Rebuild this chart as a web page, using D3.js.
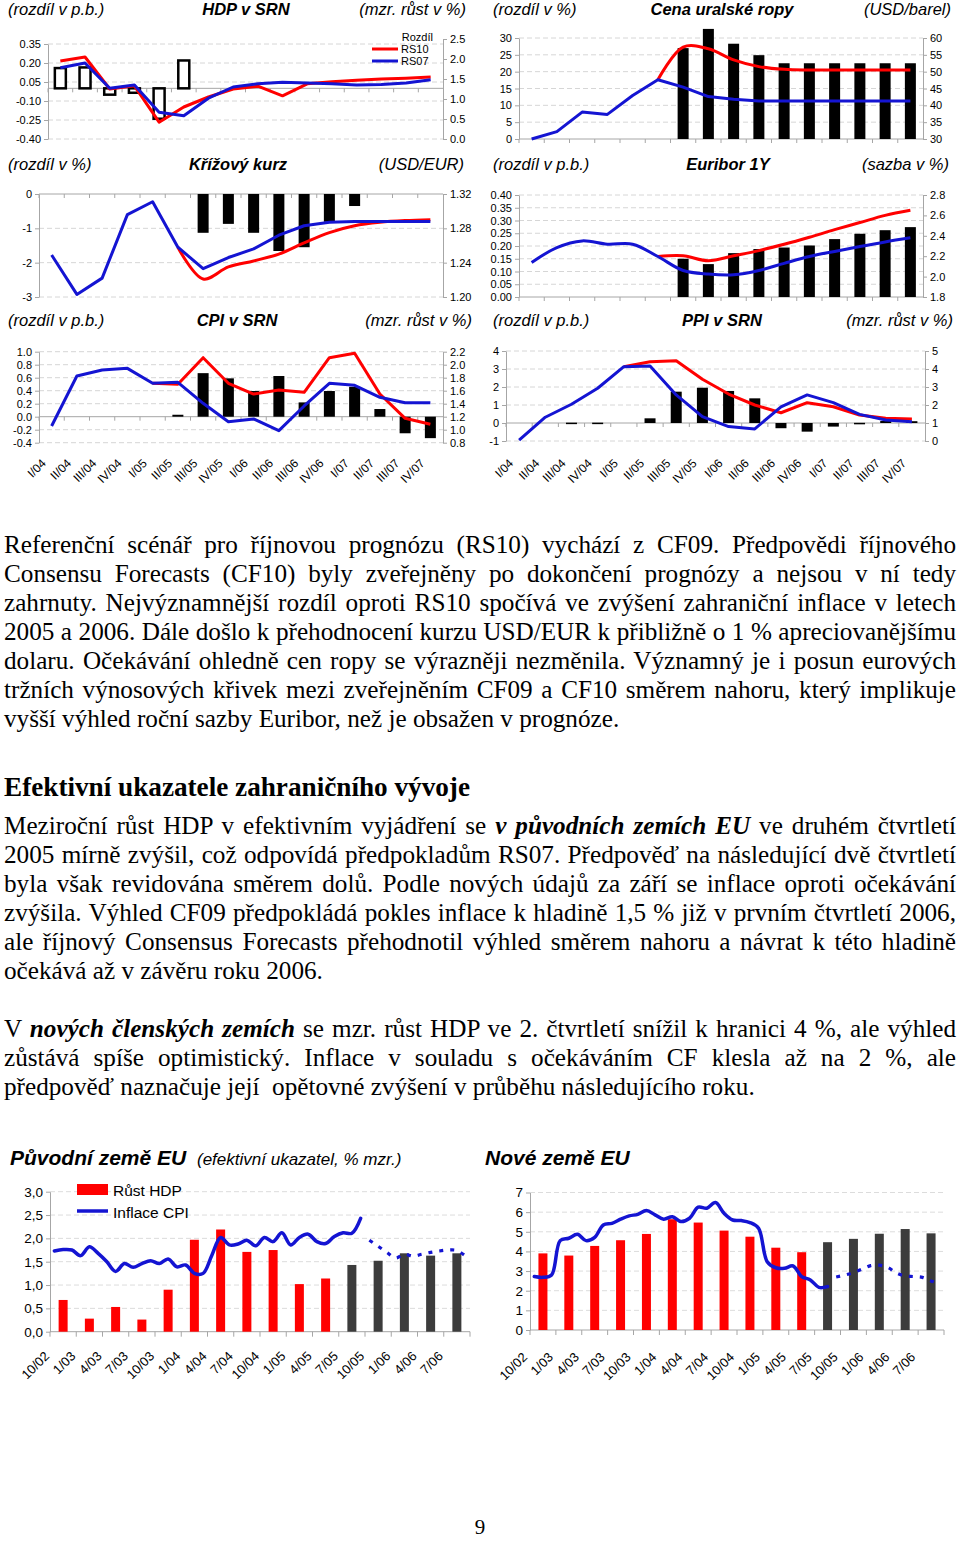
<!DOCTYPE html>
<html>
<head>
<meta charset="utf-8">
<script src="https://cdn.jsdelivr.net/npm/d3@7"></script>
<style>
  body { margin: 0; background: #fff; }
  svg { display: block; }
</style>
</head>
<body>
<svg id="page" width="960" height="1541"></svg>
<script>
/* eslint-disable no-undef */

// ---- data: horní grafy (čtvrtletí) ----
const quarters = ['I/04', 'II/04', 'III/04', 'IV/04', 'I/05', 'II/05', 'III/05', 'IV/05',
  'I/06', 'II/06', 'III/06', 'IV/06', 'I/07', 'II/07', 'III/07', 'IV/07']

// HDP v SRN
const hdpRozdil = [0.16, 0.165, -0.05, -0.035, -0.24, 0.22, null, null, null, null, null, null, null, null, null, null]
const hdpRS10 = [1.95, 2.05, 1.25, 1.33, 0.42, 0.80, 1.05, 1.25, 1.32, 1.08, 1.38, 1.43, 1.47, 1.50, 1.52, 1.55]
const hdpRS07 = [1.78, 1.90, 1.27, 1.35, 0.67, 0.58, 1.02, 1.30, 1.38, 1.42, 1.40, 1.38, 1.35, 1.36, 1.40, 1.48]

// Cena uralské ropy
const ropaRozdil = [null, null, null, null, null, null, 27.0, 32.7, 28.3, 24.9, 22.5, 22.5, 22.5, 22.5, 22.5, 22.5]
const ropaRS10 = [null, null, null, null, null, 47.6, 57.3, 56.8, 53.5, 51.5, 50.7, 50.5, 50.5, 50.5, 50.5, 50.5]
const ropaRS07 = [30.0, 32.2, 38.0, 37.3, 42.9, 47.6, 45.4, 42.6, 41.8, 41.3, 41.3, 41.3, 41.3, 41.3, 41.3, 41.3]

// Křížový kurz
const kurzRozdil = [null, null, null, null, null, null, -1.13, -0.87, -1.13, -1.66, -1.55, -0.81, -0.35, null, null, null]
const kurzRS10 = [null, null, null, null, null, 1.258, 1.221, 1.235, 1.242, 1.250, 1.263, 1.275, 1.283, 1.287, 1.289, 1.290]
const kurzRS07 = [1.249, 1.203, 1.222, 1.296, 1.311, 1.258, 1.233, 1.246, 1.256, 1.272, 1.283, 1.287, 1.288, 1.288, 1.288, 1.288]

// Euribor 1Y
const euriborRozdil = [null, null, null, null, null, null, 0.150, 0.129, 0.172, 0.188, 0.194, 0.202, 0.227, 0.248, 0.262, 0.274]
const euriborRS10 = [null, null, null, null, null, 2.197, 2.204, 2.155, 2.204, 2.255, 2.317, 2.386, 2.46, 2.53, 2.60, 2.65]
const euriborRS07 = [2.138, 2.285, 2.35, 2.318, 2.318, 2.197, 2.06, 2.025, 2.018, 2.06, 2.13, 2.197, 2.247, 2.295, 2.34, 2.38]

// CPI v SRN
const cpiRozdil = [null, null, null, null, null, 0.03, 0.67, 0.59, 0.395, 0.626, 0.22, 0.395, 0.46, 0.118, -0.255, -0.33]
const cpiRS10 = [null, null, null, null, 1.714, 1.70, 2.108, 1.714, 1.549, 1.611, 1.575, 2.108, 2.175, 1.549, 1.175, 1.083]
const cpiRS07 = [1.057, 1.826, 1.918, 1.944, 1.714, 1.729, 1.406, 1.123, 1.165, 0.985, 1.365, 1.714, 1.683, 1.498, 1.416, 1.416]

// PPI v SRN
const ppiRozdil = [null, null, 0.02, 0.02, null, 0.26, 1.74, 1.96, 1.78, 1.37, -0.29, -0.48, -0.20, 0.01, 0.11, 0.10]
const ppiRS10 = [null, null, null, null, 4.13, 4.40, 4.46, 3.43, 2.61, 2.00, 1.57, 2.13, 1.90, 1.44, 1.26, 1.22]
const ppiRS07 = [0.05, 1.32, 2.04, 2.93, 4.13, 4.17, 2.56, 1.35, 0.80, 0.67, 1.90, 2.56, 2.13, 1.48, 1.17, 1.07]

// ---- data: dolní grafy (efektivní ukazatele) ----
const qLabels = ['10/02', '1/03', '4/03', '7/03', '10/03', '1/04', '4/04', '7/04', '10/04', '1/05',
  '4/05', '7/05', '10/05', '1/06', '4/06', '7/06']

const puvHdp = [0.68, 0.28, 0.53, 0.26, 0.90, 1.97, 2.19, 1.71, 1.75, 1.02, 1.14]
const puvHdpPredpoved = [1.43, 1.52, 1.68, 1.63, 1.68]
const puvCpi = [1.73, 1.76, 1.75, 1.63, 1.82, 1.68, 1.50, 1.29, 1.46, 1.38, 1.46, 1.52, 1.46, 1.56, 1.39, 1.43, 1.25, 1.25,
  1.64, 2.02, 1.86, 1.88, 1.96, 1.84, 2.02, 1.93, 2.12, 1.86, 2.02, 2.09, 1.93, 1.89, 2.04, 2.12, 2.11, 2.43]
const puvCpiPredpoved = [1.96, 1.83, 1.70, 1.58, 1.66, 1.62, 1.66, 1.70, 1.73, 1.75, 1.74, 1.62]

const noveHdp = [3.90, 3.79, 4.28, 4.57, 4.89, 5.64, 5.47, 5.06, 4.75, 4.19, 3.96]
const noveHdpPredpoved = [4.47, 4.64, 4.90, 5.14, 4.92]
const noveCpi = [2.72, 2.68, 2.80, 4.55, 4.67, 4.87, 4.55, 4.72, 5.35, 5.43, 5.64, 5.81, 5.89, 6.08, 5.86, 5.64, 5.77, 5.52,
  5.69, 6.25, 6.20, 6.49, 5.94, 5.60, 5.57, 5.47, 5.18, 3.48, 3.17, 3.14, 3.26, 2.72, 2.55, 2.17, 2.21]
const noveCpiPredpoved = [2.70, 2.80, 2.92, 3.10, 3.28, 3.30, 3.18, 2.90, 2.75, 2.72, 2.68, 2.50, 2.35]

// ---- text ----
const odstavec1 = [
  'Referenční scénář pro říjnovou prognózu (RS10) vychází z CF09. Předpovědi říjnového',
  'Consensu Forecasts (CF10) byly zveřejněny po dokončení prognózy a nejsou v ní tedy',
  'zahrnuty. Nejvýznamnější rozdíl oproti RS10 spočívá ve zvýšení zahraniční inflace v letech',
  '2005 a 2006. Dále došlo k přehodnocení kurzu USD/EUR k přibližně o 1 % apreciovanějšímu',
  'dolaru. Očekávání ohledně cen ropy se výrazněji nezměnila. Významný je i posun eurových',
  'tržních výnosových křivek mezi zveřejněním CF09 a CF10 směrem nahoru, který implikuje',
  'vyšší výhled roční sazby Euribor, než je obsažen v prognóze.'
]
const nadpis = 'Efektivní ukazatele zahraničního vývoje'
const odstavec2 = [
  'Meziroční růst HDP v efektivním vyjádření se *v původních zemích EU* ve druhém čtvrtletí',
  '2005 mírně zvýšil, což odpovídá předpokladům RS07. Předpověď na následující dvě čtvrtletí',
  'byla však revidována směrem dolů. Podle nových údajů za září se inflace oproti očekávání',
  'zvýšila. Výhled CF09 předpokládá pokles inflace k hladině 1,5 % již v prvním čtvrtletí 2006,',
  'ale říjnový Consensus Forecasts přehodnotil výhled směrem nahoru a návrat k této hladině',
  'očekává až v závěru roku 2006.'
]
const odstavec3 = [
  'V *nových členských zemích* se mzr. růst HDP ve 2. čtvrtletí snížil k hranici 4 %, ale výhled',
  'zůstává spíše optimistický. Inflace v souladu s očekáváním CF klesla až na 2 %, ale',
  'předpověď naznačuje její  opětovné zvýšení v průběhu následujícího roku.'
]

const RED = '#ff0000'
const BLUE = '#1414d2'
const GREY = '#a6a6a6'
const SANS = 'Liberation Sans, Arial, sans-serif'
const SERIF = 'Liberation Serif, Times New Roman, serif'

const svg = d3.select('#page')
const dot = d3.formatLocale({ decimal: '.', thousands: ',', grouping: [3], currency: ['', ''], minus: '-' })
const fmtCz = d3.formatLocale({ decimal: ',', thousands: ' ', grouping: [3], currency: ['', ''], minus: '-' }).format('.1f')

function styleAxis (a, size) {
  a.attr('font-family', SANS).attr('font-size', size)
  a.selectAll('path, line').attr('stroke', GREY)
  a.selectAll('text').attr('fill', '#000')
}

function titles (t) {
  const g = svg.append('g').attr('font-family', SANS).attr('font-size', 16.5).attr('font-style', 'italic')
  g.append('text').attr('x', t.lx).attr('y', t.y).text(t.l)
  g.append('text').attr('x', t.cx).attr('y', t.y).attr('text-anchor', 'middle')
    .attr('font-weight', 'bold').text(t.c)
  g.append('text').attr('x', t.rx).attr('y', t.y).attr('text-anchor', 'end').text(t.r)
}

// dvojosý graf: sloupce = rozdíl (levá osa), čáry = RS10 / RS07 (pravá osa)
function panel (cfg) {
  const g = svg.append('g')
  const x = d3.scaleBand().domain(quarters).range([cfg.x0, cfg.x1])
  const yL = d3.scaleLinear().domain(cfg.left).range(cfg.ly)
  const yR = d3.scaleLinear().domain(cfg.right).range(cfg.ry)
  const cx = q => x(q) + x.bandwidth() / 2
  const bw = 11

  g.append('g').selectAll('line').data(cfg.lTicks.filter(d => d !== cfg.base)).join('line')
    .attr('x1', cfg.x0).attr('x2', cfg.x1)
    .attr('y1', d => yL(d)).attr('y2', d => yL(d))
    .attr('stroke', '#d6d6d6').attr('stroke-dasharray', '5,3')

  const axL = g.append('g').attr('transform', `translate(${cfg.x0},0)`)
    .call(d3.axisLeft(yL).tickValues(cfg.lTicks).tickFormat(cfg.lFmt).tickSize(4).tickSizeOuter(0))
  const axR = g.append('g').attr('transform', `translate(${cfg.x1},0)`)
    .call(d3.axisRight(yR).tickValues(cfg.rTicks).tickFormat(cfg.rFmt).tickSize(4).tickSizeOuter(0))
  styleAxis(axL, 11)
  styleAxis(axR, 11)

  // kategoriální osa
  const by = yL(cfg.base)
  g.append('line').attr('x1', cfg.x0).attr('x2', cfg.x1).attr('y1', by).attr('y2', by).attr('stroke', GREY)
  g.append('g').selectAll('line').data(quarters).join('line')
    .attr('x1', d => x(d)).attr('x2', d => x(d))
    .attr('y1', by).attr('y2', by + 4).attr('stroke', GREY)

  const bars = quarters.map((q, i) => ({ q, v: cfg.bars[i] })).filter(d => d.v != null)
  g.append('g').selectAll('rect').data(bars).join('rect')
    .attr('x', d => cx(d.q) - bw / 2)
    .attr('width', bw)
    .attr('y', d => Math.min(yL(d.v), by))
    .attr('height', d => Math.max(1.5, Math.abs(yL(d.v) - by)))
    .attr('fill', cfg.hollow ? '#fff' : '#000')
    .attr('stroke', cfg.hollow ? '#000' : 'none')
    .attr('stroke-width', 2.5)

  cfg.lines.forEach(s => {
    const line = d3.line()
      .defined(d => d != null)
      .x((d, i) => cx(quarters[i]))
      .y(d => yR(d))
      .curve(s.curve || cfg.curve || d3.curveLinear)
    g.append('path').datum(s.values)
      .attr('d', line)
      .attr('fill', 'none')
      .attr('stroke', s.color)
      .attr('stroke-width', 3)
      .attr('stroke-linejoin', 'round')
  })

  if (cfg.labelY) {
    g.append('g').selectAll('text').data(quarters).join('text')
      .attr('transform', d => `translate(${cx(d) - 5},${cfg.labelY}) rotate(-45)`)
      .attr('text-anchor', 'end')
      .attr('font-family', SANS).attr('font-size', 12)
      .text(d => d)
  }
  return g
}

// graf efektivních ukazatelů: čtvrtletní HDP (sloupce) + měsíční CPI (čára)
function euPanel (cfg) {
  const g = svg.append('g')
  const x = d3.scaleBand().domain(qLabels).range([cfg.x0, cfg.x1])
  const xm = d3.scaleLinear().domain([0, 48]).range([cfg.x0, cfg.x1])
  const y = d3.scaleLinear().domain(cfg.dom).range(cfg.yr)
  const cx = q => x(q) + x.bandwidth() / 2
  const bw = 9

  g.append('g').selectAll('line').data(cfg.ticks.slice(1)).join('line')
    .attr('x1', cfg.x0).attr('x2', cfg.x1)
    .attr('y1', d => y(d)).attr('y2', d => y(d))
    .attr('stroke', '#dcdcdc').attr('stroke-dasharray', '5,3')

  const ax = g.append('g').attr('transform', `translate(${cfg.x0},0)`)
    .call(d3.axisLeft(y).tickValues(cfg.ticks).tickFormat(cfg.fmt).tickSize(4).tickSizeOuter(0))
  styleAxis(ax, 13.5)

  const by = y(0)
  g.append('line').attr('x1', cfg.x0).attr('x2', cfg.x1).attr('y1', by).attr('y2', by).attr('stroke', GREY)
  g.append('g').selectAll('line').data(qLabels.concat(['end'])).join('line')
    .attr('x1', (d, i) => cfg.x0 + i * x.step()).attr('x2', (d, i) => cfg.x0 + i * x.step())
    .attr('y1', by).attr('y2', by + 5).attr('stroke', GREY)

  const bars = cfg.hdp.map((v, i) => ({ q: qLabels[i], v, c: RED }))
    .concat(cfg.hdpP.map((v, i) => ({ q: qLabels[i + cfg.hdp.length], v, c: '#3c3c3c' })))
  g.append('g').selectAll('rect').data(bars).join('rect')
    .attr('x', d => cx(d.q) - bw / 2).attr('width', bw)
    .attr('y', d => y(d.v)).attr('height', d => by - y(d.v))
    .attr('fill', d => d.c)

  const line = off => d3.line()
    .x((d, i) => xm(i + off + 0.5))
    .y(d => y(d))
    .curve(d3.curveCatmullRom.alpha(0.5))
  g.append('path').datum(cfg.cpi).attr('d', line(0))
    .attr('fill', 'none').attr('stroke', BLUE).attr('stroke-width', 3.5).attr('stroke-linecap', 'round')
  g.append('path').datum(cfg.cpiP).attr('d', line(cfg.cpiPStart))
    .attr('fill', 'none').attr('stroke', BLUE).attr('stroke-width', 3.2).attr('stroke-dasharray', '4,7')

  g.append('g').selectAll('text').data(qLabels).join('text')
    .attr('transform', (d, i) => `translate(${cfg.x0 + i * x.step() + cfg.lblDx},${cfg.labelY}) rotate(-45)`)
    .attr('text-anchor', 'end')
    .attr('font-family', SANS).attr('font-size', 13)
    .text(d => d)
  return g
}

const f2 = dot.format('.2f')
const f1 = dot.format('.1f')
const f0 = dot.format('d')
const smooth = d3.curveCatmullRom.alpha(0.5)

// HDP v SRN
titles({ y: 15, lx: 8, cx: 246, rx: 466, l: '(rozdíl v p.b.)', c: 'HDP v SRN', r: '(mzr. růst v %)' })
panel({
  x0: 48, x1: 443, left: [-0.40, 0.35], ly: [139, 44], right: [0, 2.5], ry: [139, 39],
  lTicks: [-0.40, -0.25, -0.10, 0.05, 0.20, 0.35], lFmt: f2,
  rTicks: [0, 0.5, 1.0, 1.5, 2.0, 2.5], rFmt: f1,
  base: 0, bars: hdpRozdil, hollow: true,
  lines: [{ values: hdpRS10, color: RED }, { values: hdpRS07, color: BLUE }]
})
const leg = svg.append('g').attr('font-family', SANS).attr('font-size', 11)
leg.append('text').attr('x', 433).attr('y', 41).attr('text-anchor', 'end').text('Rozdíl')
leg.append('line').attr('x1', 372).attr('x2', 398).attr('y1', 49).attr('y2', 49).attr('stroke', RED).attr('stroke-width', 3)
leg.append('text').attr('x', 401).attr('y', 53).text('RS10')
leg.append('line').attr('x1', 372).attr('x2', 398).attr('y1', 61).attr('y2', 61).attr('stroke', BLUE).attr('stroke-width', 3)
leg.append('text').attr('x', 401).attr('y', 65).text('RS07')

// Cena uralské ropy
titles({ y: 15, lx: 493, cx: 722, rx: 951, l: '(rozdíl v %)', c: 'Cena uralské ropy', r: '(USD/barel)' })
panel({
  x0: 519, x1: 923, left: [0, 30], ly: [139, 38], right: [30, 60], ry: [139, 38],
  lTicks: [0, 5, 10, 15, 20, 25, 30], lFmt: f0,
  rTicks: [30, 35, 40, 45, 50, 55, 60], rFmt: f0,
  base: 0, bars: ropaRozdil,
  lines: [{ values: ropaRS10, color: RED, curve: smooth }, { values: ropaRS07, color: BLUE }]
})

// Křížový kurz
titles({ y: 170, lx: 8, cx: 238, rx: 464, l: '(rozdíl v %)', c: 'Křížový kurz', r: '(USD/EUR)' })
panel({
  x0: 39, x1: 443, left: [-3, 0], ly: [297, 194], right: [1.20, 1.32], ry: [297, 194],
  lTicks: [-3, -2, -1, 0], lFmt: f0,
  rTicks: [1.20, 1.24, 1.28, 1.32], rFmt: f2,
  base: 0, bars: kurzRozdil,
  lines: [{ values: kurzRS10, color: RED, curve: smooth }, { values: kurzRS07, color: BLUE }]
})

// Euribor 1Y
titles({ y: 170, lx: 493, cx: 728, rx: 949, l: '(rozdíl v p.b.)', c: 'Euribor 1Y', r: '(sazba v %)' })
panel({
  x0: 519, x1: 923, left: [0, 0.40], ly: [297, 195], right: [1.8, 2.8], ry: [297, 195],
  lTicks: d3.range(0, 0.401, 0.05), lFmt: f2,
  rTicks: d3.range(1.8, 2.81, 0.2), rFmt: f1,
  base: 0, bars: euriborRozdil, curve: smooth,
  lines: [{ values: euriborRS10, color: RED }, { values: euriborRS07, color: BLUE }]
})

// CPI v SRN
titles({ y: 326, lx: 8, cx: 237, rx: 472, l: '(rozdíl v p.b.)', c: 'CPI v SRN', r: '(mzr. růst v %)' })
panel({
  x0: 39, x1: 443, left: [-0.4, 1.0], ly: [442.7, 351.7], right: [0.8, 2.2], ry: [442.7, 351.7],
  lTicks: d3.range(-0.4, 1.01, 0.2), lFmt: f1,
  rTicks: d3.range(0.8, 2.21, 0.2), rFmt: f1,
  base: 0, bars: cpiRozdil, labelY: 464,
  lines: [{ values: cpiRS10, color: RED }, { values: cpiRS07, color: BLUE }]
})

// PPI v SRN
titles({ y: 326, lx: 493, cx: 722, rx: 953, l: '(rozdíl v p.b.)', c: 'PPI v SRN', r: '(mzr. růst v %)' })
panel({
  x0: 506, x1: 925, left: [-1, 4], ly: [441, 351], right: [0, 5], ry: [441, 351],
  lTicks: [-1, 0, 1, 2, 3, 4], lFmt: f0,
  rTicks: [0, 1, 2, 3, 4, 5], rFmt: f0,
  base: 0, bars: ppiRozdil, labelY: 464,
  lines: [{ values: ppiRS10, color: RED }, { values: ppiRS07, color: BLUE }]
})

// ---- odstavce textu (zarovnání do bloku) ----
function textLine (str, y, justify, opts) {
  const t = svg.append('text')
    .attr('x', 4).attr('y', y)
    .attr('font-family', SERIF).attr('font-size', opts.size)
    .attr('font-weight', opts.bold ? 'bold' : null)
    .style('white-space', 'pre')
  str.split('*').forEach((s, i) => {
    t.append('tspan').text(s)
      .attr('font-weight', i % 2 ? 'bold' : null)
      .attr('font-style', i % 2 ? 'italic' : null)
  })
  if (justify) {
    const w = t.node().getComputedTextLength()
    const n = (str.match(/ /g) || []).length
    t.style('word-spacing', ((952 - w) / n) + 'px')
  }
}
const BODY = 25.2
const LH = 29
odstavec1.forEach((s, i) => textLine(s, 553 + i * LH, i < odstavec1.length - 1, { size: BODY }))
textLine(nadpis, 796, false, { size: 27.2, bold: true })
odstavec2.forEach((s, i) => textLine(s, 834 + i * LH, i < odstavec2.length - 1, { size: BODY }))
odstavec3.forEach((s, i) => textLine(s, 1037 + i * LH, i < odstavec3.length - 1, { size: BODY }))

// ---- dolní grafy ----
const tg = svg.append('g').attr('font-family', SANS).attr('font-style', 'italic')
tg.append('text').attr('x', 10).attr('y', 1165).attr('font-size', 21).attr('font-weight', 'bold').text('Původní země EU')
tg.append('text').attr('x', 197).attr('y', 1165).attr('font-size', 17).text('(efektivní ukazatel, % mzr.)')
tg.append('text').attr('x', 485).attr('y', 1165).attr('font-size', 21).attr('font-weight', 'bold').text('Nové země EU')

euPanel({
  x0: 50, x1: 470, dom: [0, 3], yr: [1331.7, 1191.7],
  ticks: d3.range(0, 3.01, 0.5), fmt: fmtCz,
  hdp: puvHdp, hdpP: puvHdpPredpoved,
  cpi: puvCpi, cpiP: puvCpiPredpoved, cpiPStart: 36,
  labelY: 1357, lblDx: 0
})
const lg = svg.append('g').attr('font-family', SANS).attr('font-size', 15.5)
lg.append('rect').attr('x', 77).attr('y', 1184).attr('width', 31).attr('height', 11).attr('fill', RED)
lg.append('text').attr('x', 113).attr('y', 1196).text('Růst HDP')
lg.append('line').attr('x1', 77).attr('x2', 108).attr('y1', 1211).attr('y2', 1211).attr('stroke', BLUE).attr('stroke-width', 3.5)
lg.append('text').attr('x', 113).attr('y', 1218).text('Inflace CPI')

euPanel({
  x0: 530, x1: 944, dom: [0, 7], yr: [1330, 1192.5],
  ticks: d3.range(0, 8), fmt: f0,
  hdp: noveHdp, hdpP: noveHdpPredpoved,
  cpi: noveCpi, cpiP: noveCpiPredpoved, cpiPStart: 35,
  labelY: 1358, lblDx: -2
})

svg.append('text').attr('x', 480).attr('y', 1534).attr('text-anchor', 'middle')
  .attr('font-family', SERIF).attr('font-size', 21).text('9')
</script>
</body>
</html>
